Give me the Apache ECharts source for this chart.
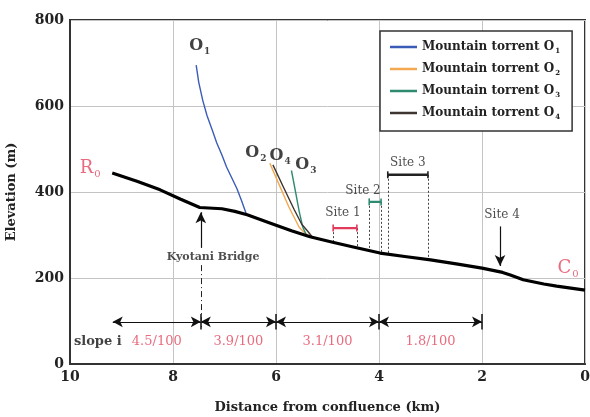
<!DOCTYPE html>
<html>
<head>
<meta charset="utf-8">
<script src="https://cdn.jsdelivr.net/npm/echarts@6/dist/echarts.min.js"></script>
<style>
  html, body { margin: 0; padding: 0; background: #fff; }
  #chart { width: 590px; height: 417px; }
</style>
</head>
<body>
<div id="chart"></div>
<script>
// Longitudinal river-bed profile: distance from confluence (km) and elevation (m)
const profileKm   = [9.18, 8.70, 8.25, 7.85, 7.48, 7.05, 6.80, 6.56, 6.12, 5.70, 5.34, 4.90, 4.50, 3.98, 3.50, 3.00, 2.50, 2.00, 1.60, 1.45, 1.20, 0.80, 0.55, 0.00];
const profileElev = [444, 425, 405, 383, 364, 361, 355, 347, 328, 310, 296, 283, 272, 258, 250, 242, 233, 223, 213, 207, 196, 186, 181, 172];

// Mountain torrent profiles
const torrentNames  = ['Mountain torrent O1', 'Mountain torrent O2', 'Mountain torrent O3', 'Mountain torrent O4'];
const torrentColors = ['#3b5cb6', '#f3a851', '#2f8b70', '#3f3530'];
const o1Km   = [7.55, 7.50, 7.42, 7.34, 7.24, 7.15, 7.05, 6.96, 6.86, 6.76, 6.67, 6.58];
const o1Elev = [695, 655, 612, 578, 545, 514, 486, 458, 433, 408, 380, 350];
const o2Km   = [6.12, 5.95, 5.75, 5.55, 5.45, 5.36];
const o2Elev = [467, 420, 365, 318, 306, 298];
const o3Km   = [5.70, 5.62, 5.55, 5.48, 5.42];
const o3Elev = [450, 400, 355, 318, 303];
const o4Km   = [6.06, 5.85, 5.65, 5.50, 5.38, 5.30];
const o4Elev = [463, 410, 360, 325, 308, 296];

// Torrent tags (subscript digit) and where they sit
const torrentTags   = ['1', '2', '3', '4'];
const torrentTagPos = [[7.48, 740], [6.39, 491], [5.42, 463], [5.92, 484]];

// Observation sites: reach extent (km) and the elevation the bar is drawn at
const siteNames    = ['Site 1', 'Site 2', 'Site 3', 'Site 4'];
const siteSpans    = [[4.89, 4.43], [4.19, 3.96], [3.83, 3.05]];
const siteBarElev  = [316, 377, 440];
const siteColors   = ['#e23a5a', '#2f8b70', '#222222'];
const siteLabelPos = [[4.70, 351], [4.31, 402], [3.44, 467], [1.61, 347]];
const site4Arrow   = [1.65, 320, 228];   // km, from elevation, to elevation

// Kyotani Bridge marker
const bridgeKm       = 7.46;
const bridgeArrow    = [270, 353];
const bridgeDashDot  = [230, 84];
const bridgeLabelPos = [7.22, 249];

// Channel slope reaches
const slopeBreaks    = [9.17, 7.46, 6, 4, 2];
const slopeValues    = ['4.5/100', '3.9/100', '3.1/100', '1.8/100'];
const slopeArrowElev = 98;
const slopeLabelElev = 51;
const slopeTitlePos  = [9.46, 51];

// End labels of the main channel
const endLetters  = ['R', 'C'];
const endLabelPos = [[9.61, 456], [0.33, 223]];

// Axis ticks
const xTicks = [0, 10, 2];     // min, max, interval
const yTicks = [0, 800, 200];

const SERIF = '"DejaVu Serif", "Liberation Serif", serif';
const RED = '#e2475f';

const pairs = (xs, ys) => xs.map((x, i) => [x, ys[i]]);

// Elevation of the river bed at a given distance (for guide lines down to the bed)
function bedAt(km) {
  for (let i = 0; i < profileKm.length - 1; i++) {
    const a = profileKm[i], b = profileKm[i + 1];
    if (km <= a && km >= b) {
      const t = (a - km) / (a - b);
      return profileElev[i] + t * (profileElev[i + 1] - profileElev[i]);
    }
  }
  return profileElev[profileElev.length - 1];
}

function subRich(size, color, weight) {
  return {
    m: { fontFamily: SERIF, fontSize: size, fontWeight: weight, color: color, lineHeight: size + 4, verticalAlign: 'middle' },
    s: { fontFamily: SERIF, fontSize: Math.round(size * 0.55), fontWeight: weight, color: color,
         lineHeight: Math.round(size * 0.55), verticalAlign: 'bottom', padding: [0, 0, 0, 1] }
  };
}

function note(pos, formatter, style) {
  return {
    value: pos,
    label: Object.assign({ show: true, position: 'inside', formatter: formatter }, style)
  };
}

const notes = [];
endLetters.forEach((c, i) => {
  notes.push(note(endLabelPos[i], '{m|' + c + '}{s|0}', { rich: subRich(18, RED, 'normal') }));
});
torrentTags.forEach((t, i) => {
  notes.push(note(torrentTagPos[i], '{m|O}{s|' + t + '}', { rich: subRich(16, '#111', 'bold') }));
});
siteNames.forEach((n, i) => {
  notes.push(note(siteLabelPos[i], n, { fontFamily: SERIF, fontSize: 12, color: '#222' }));
});
notes.push(note(bridgeLabelPos, 'Kyotani Bridge', { fontFamily: SERIF, fontSize: 11, fontWeight: 'bold', color: '#222' }));
notes.push(note(slopeTitlePos, 'slope i', { fontFamily: SERIF, fontSize: 13, fontWeight: 'bold', color: '#111' }));
slopeValues.forEach((v, i) => {
  const mid = (slopeBreaks[i] + slopeBreaks[i + 1]) / 2;
  notes.push(note([mid, slopeLabelElev], v, { fontFamily: SERIF, fontSize: 13, color: RED }));
});

// Guide lines
const siteGuides = [];
siteSpans.forEach((span, i) => {
  span.forEach(k => siteGuides.push([{ coord: [k, siteBarElev[i]] }, { coord: [k, bedAt(k)] }]));
});
const slopeArrows = [];
for (let i = 0; i < slopeBreaks.length - 1; i++) {
  slopeArrows.push([{ coord: [slopeBreaks[i], slopeArrowElev] }, { coord: [slopeBreaks[i + 1], slopeArrowElev] }]);
}
const slopeTicks = slopeBreaks.slice(1).map(k => [{ coord: [k, slopeArrowElev - 18] }, { coord: [k, slopeArrowElev + 18] }]);

function guideSeries(data, symbols, lineStyle, symbolSize) {
  return {
    type: 'line', data: [], silent: true, z: 6,
    markLine: {
      silent: true, animation: false,
      symbol: symbols, symbolSize: symbolSize || [8, 10],
      label: { show: false },
      emphasis: { disabled: true },
      lineStyle: lineStyle,
      data: data
    }
  };
}

const torrentData = [pairs(o1Km, o1Elev), pairs(o2Km, o2Elev), pairs(o3Km, o3Elev), pairs(o4Km, o4Elev)];

const series = [];
torrentNames.forEach((name, i) => {
  series.push({
    type: 'line', name: name, data: torrentData[i], symbol: 'none', z: 3,
    lineStyle: { color: torrentColors[i], width: 1.4, join: 'round' },
    itemStyle: { color: torrentColors[i] }
  });
});
series.push({
  type: 'line', name: 'River bed', data: pairs(profileKm, profileElev), symbol: 'none', z: 5,
  lineStyle: { color: '#000', width: 3.2, join: 'round' }
});
siteSpans.forEach((span, i) => {
  series.push({
    type: 'line', name: siteNames[i], z: 6,
    data: [[span[0], siteBarElev[i]], [span[1], siteBarElev[i]]],
    symbol: 'rect', symbolSize: [1.6, 7], showSymbol: true,
    lineStyle: { color: siteColors[i], width: 2.4 },
    itemStyle: { color: siteColors[i] }
  });
});
series.push(guideSeries(siteGuides, ['none', 'none'], { type: [2, 2], color: '#444', width: 1 }));
series.push(guideSeries(slopeArrows, ['arrow', 'arrow'], { type: 'solid', color: '#111', width: 1.2 }, [8, 10]));
series.push(guideSeries(slopeTicks, ['none', 'none'], { type: 'solid', color: '#111', width: 1.5 }));
series.push(guideSeries([[{ coord: [bridgeKm, bridgeArrow[0]] }, { coord: [bridgeKm, bridgeArrow[1]] }]],
  ['none', 'arrow'], { type: 'solid', color: '#111', width: 1.2 }, [8, 11]));
series.push(guideSeries([[{ coord: [bridgeKm, bridgeDashDot[0]] }, { coord: [bridgeKm, bridgeDashDot[1]] }]],
  ['none', 'none'], { type: [6, 3, 1, 3], color: '#222', width: 1 }));
series.push(guideSeries([[{ coord: [site4Arrow[0], site4Arrow[1]] }, { coord: [site4Arrow[0], site4Arrow[2]] }]],
  ['none', 'arrow'], { type: 'solid', color: '#111', width: 1.2 }, [8, 11]));
series.push({
  type: 'scatter', name: 'notes', data: notes, symbolSize: 1, silent: true, z: 8,
  itemStyle: { color: 'rgba(0,0,0,0)' }
});

const axisLabelStyle = { fontFamily: SERIF, fontSize: 14, fontWeight: 'bold', color: '#222' };
const axisNameStyle  = { fontFamily: SERIF, fontSize: 13, fontWeight: 'bold', color: '#222' };

const chart = echarts.init(document.getElementById('chart'), null, { renderer: 'canvas' });
chart.setOption({
  animation: false,
  backgroundColor: '#fff',
  grid: {
    left: 70, right: 5, top: 20, bottom: 53,
    containLabel: false, outerBoundsMode: 'none',
    show: true, borderColor: '#333', borderWidth: 2, backgroundColor: '#fff'
  },
  legend: {
    data: torrentNames,
    orient: 'vertical', left: 380, top: 31,
    padding: [10, 12, 10, 10],
    icon: 'rect',
    itemWidth: 27, itemHeight: 2.5, itemGap: 8,
    borderColor: '#333', borderWidth: 1.5, borderRadius: 0,
    backgroundColor: '#fff',
    selectedMode: false,
    formatter: name => name.replace(/O(\d)$/, '{m|O}{s|$1}'),
    textStyle: {
      fontFamily: SERIF, fontSize: 12, fontWeight: 'bold', color: '#222',
      rich: subRich(12, '#222', 'bold')
    }
  },
  xAxis: {
    type: 'value', inverse: true,
    min: xTicks[0], max: xTicks[1], interval: xTicks[2],
    name: 'Distance from confluence (km)', nameLocation: 'middle', nameGap: 37,
    nameTextStyle: axisNameStyle,
    axisLine: { show: true, onZero: false, lineStyle: { color: '#333', width: 2 } },
    axisTick: { show: false },
    axisLabel: Object.assign({ margin: 6 }, axisLabelStyle),
    splitLine: { show: true, lineStyle: { color: '#c4c4c4', width: 1 } }
  },
  yAxis: {
    type: 'value',
    min: yTicks[0], max: yTicks[1], interval: yTicks[2],
    name: 'Elevation (m)', nameLocation: 'middle', nameGap: 52,
    nameTextStyle: axisNameStyle,
    axisLine: { show: true, onZero: false, lineStyle: { color: '#333', width: 2 } },
    axisTick: { show: false },
    axisLabel: Object.assign({ margin: 6 }, axisLabelStyle),
    splitLine: { show: true, lineStyle: { color: '#c4c4c4', width: 1 } }
  },
  series: series
});
</script>
</body>
</html>
